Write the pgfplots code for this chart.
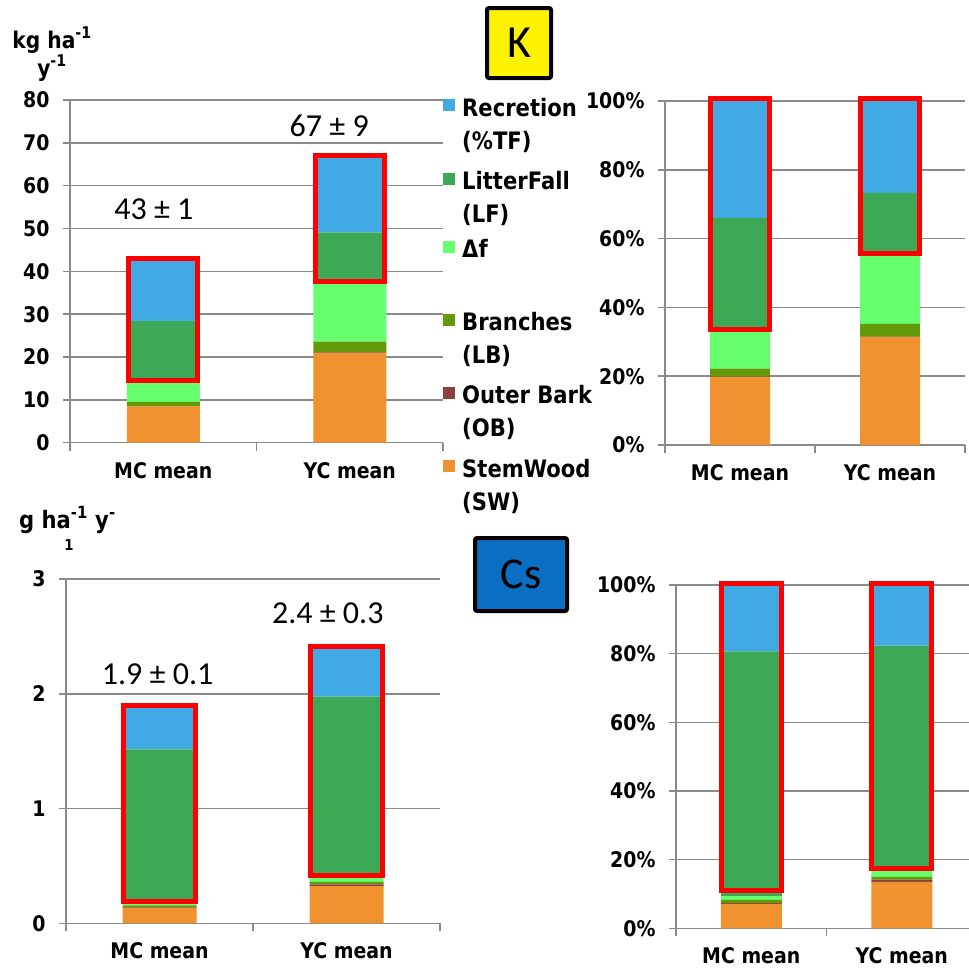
\documentclass[border=0pt]{standalone}
\usepackage{fontspec}
\setmainfont{DejaVu Sans}[FakeStretch=0.88]
\newfontfamily\calib{Carlito}
\usepackage{pgfplots}
\usepackage{pgfplotstable}
\pgfplotsset{compat=1.18}
\definecolor{cRec}{HTML}{41A9E3}
\definecolor{cLF}{HTML}{3DA855}
\definecolor{cDf}{HTML}{66FF6E}
\definecolor{cLB}{HTML}{629A0A}
\definecolor{cOB}{HTML}{8C3F3F}
\definecolor{cSW}{HTML}{F0922F}
\definecolor{gridc}{HTML}{8A8A8A}
\definecolor{csblue}{HTML}{0A6EC2}

% K absolute (kg/ha/y)
\pgfplotstableread{
x SW OB LB Df LF Rec
0 8.5 0.05 1.0 5.05 13.8 14.6
1 21.0 0.1 2.5 14.0 11.5 17.9
}\Kabs
% K percent
\pgfplotstableread{
x SW OB LB Df LF Rec
0 19.77 0.12 2.33 11.74 32.09 33.95
1 31.34 0.15 3.73 20.90 17.16 26.72
}\Kpct
% Cs absolute (g/ha/y)
\pgfplotstableread{
x SW OB LB Df LF Rec
0 0.134 0.004 0.018 0.020 1.340 0.364
1 0.325 0.015 0.020 0.046 1.570 0.424
}\Csabs
% Cs percent
\pgfplotstableread{
x SW OB LB Df LF Rec
0 7.13 0.21 0.96 1.06 71.28 19.36
1 13.54 0.63 0.83 1.92 65.42 17.67
}\Cspct

\pgfplotsset{
 sqlegend/.style={legend image code/.code={\fill[##1] (0pt,5pt) rectangle (12pt,17pt);}},
 seg/.style={fill=#1, draw=none, sqlegend},
 frame/.style={draw=red, line width=5pt, mark=none, line join=miter},
 frameax/.style={scale only axis, anchor=south west, xmin=-0.5, xmax=1.5, ymin=0, hide axis, clip=false},
 stk/.style={
  scale only axis, anchor=south west,
  ybar stacked, bar width=#1,
  xmin=-0.5, xmax=1.5, ymin=0,
  xtick={0,1}, xticklabels={MC mean,YC mean},
  minor xtick={-0.5,0.5,1.5},
  axis x line*=bottom, axis y line*=left,
  axis line style={draw=gridc, line width=1.5pt, -},
  ymajorgrids, major grid style={draw=gridc, line width=1.5pt},
  tick align=outside,
  major x tick style={draw=none},
  minor x tick style={draw=gridc, line width=1.5pt},
  major y tick style={draw=gridc, line width=1.5pt},
  major tick length=7pt, minor tick length=8pt,
  tick label style={font=\fontsize{21.5}{25}\selectfont\bfseries},
  yticklabel style={xshift=-10pt},
  xticklabel style={yshift=-9pt},
  /pgf/number format/assume math mode=true,
  clip=false,
 },
}

\begin{document}
\begin{tikzpicture}
\path[use as bounding box] (0pt,0pt) rectangle (969pt,-967pt);

% ---------- K absolute ----------
\begin{axis}[stk=73pt, at={(70pt,-442.7pt)}, width=373pt, height=342.7pt,
  ymax=80, ytick={0,10,...,80},
  reverse legend,
  legend style={at={(1.0,1.02)}, anchor=north west, draw=none, fill=none,
    font=\fontsize{24}{33}\selectfont\bfseries, cells={anchor=base west},
    row sep=48.5pt, column sep=7pt, inner sep=0pt, nodes={inner sep=0pt}},
]
\addplot[seg=cSW] table[x=x,y=SW]{\Kabs};
\addlegendentry{\begin{tabular}[t]{@{}l@{}}StemWood\\(SW)\end{tabular}}
\addplot[seg=cOB] table[x=x,y=OB]{\Kabs};
\addlegendentry{\begin{tabular}[t]{@{}l@{}}Outer Bark\\(OB)\end{tabular}}
\addplot[seg=cLB] table[x=x,y=LB]{\Kabs};
\addlegendentry{\begin{tabular}[t]{@{}l@{}}Branches\\(LB)\end{tabular}}
\addplot[seg=cDf] table[x=x,y=Df]{\Kabs};
\addlegendentry{Δf}
\addplot[seg=cLF] table[x=x,y=LF]{\Kabs};
\addlegendentry{\begin{tabular}[t]{@{}l@{}}LitterFall\\(LF)\end{tabular}}
\addplot[seg=cRec] table[x=x,y=Rec]{\Kabs};
\addlegendentry{\begin{tabular}[t]{@{}l@{}}Recretion\\(\%TF)\end{tabular}}
\node[anchor=base, font=\calib\fontsize{32}{36}\selectfont] at (axis cs:-0.05,52) {43 ± 1};
\node[anchor=base, font=\calib\fontsize{32}{36}\selectfont] at (axis cs:0.89,71.5) {67 ± 9};
\end{axis}
\begin{axis}[frameax, at={(70pt,-442.7pt)}, width=373pt, height=342.7pt, ymax=80]
\addplot[frame] coordinates {(-0.185,14.6) (0.185,14.6) (0.185,43.0) (-0.185,43.0) (-0.185,14.6) (0.185,14.6)};
\addplot[frame] coordinates {(0.815,37.6) (1.185,37.6) (1.185,67.0) (0.815,67.0) (0.815,37.6) (1.185,37.6)};
\end{axis}

% ---------- K percent ----------
\begin{axis}[stk=60pt, at={(665pt,-445pt)}, width=300pt, height=344pt,
  ymax=100, ytick={0,20,...,100}, yticklabel={\pgfmathprintnumber{\tick}\%},
]
\addplot[seg=cSW] table[x=x,y=SW]{\Kpct};
\addplot[seg=cOB] table[x=x,y=OB]{\Kpct};
\addplot[seg=cLB] table[x=x,y=LB]{\Kpct};
\addplot[seg=cDf] table[x=x,y=Df]{\Kpct};
\addplot[seg=cLF] table[x=x,y=LF]{\Kpct};
\addplot[seg=cRec] table[x=x,y=Rec]{\Kpct};
\end{axis}
\begin{axis}[frameax, at={(665pt,-445pt)}, width=300pt, height=344pt, ymax=100]
\addplot[frame] coordinates {(-0.195,33.5) (0.195,33.5) (0.195,100.7) (-0.195,100.7) (-0.195,33.5) (0.195,33.5)};
\addplot[frame] coordinates {(0.805,55.8) (1.195,55.8) (1.195,100.7) (0.805,100.7) (0.805,55.8) (1.195,55.8)};
\end{axis}

% ---------- Cs absolute ----------
\begin{axis}[stk=74pt, at={(66pt,-923.3pt)}, width=374pt, height=344.3pt,
  ymax=3, ytick={0,1,2,3},
]
\addplot[seg=cSW] table[x=x,y=SW]{\Csabs};
\addplot[seg=cOB] table[x=x,y=OB]{\Csabs};
\addplot[seg=cLB] table[x=x,y=LB]{\Csabs};
\addplot[seg=cDf] table[x=x,y=Df]{\Csabs};
\addplot[seg=cLF] table[x=x,y=LF]{\Csabs};
\addplot[seg=cRec] table[x=x,y=Rec]{\Csabs};
\node[anchor=base, font=\calib\fontsize{32}{36}\selectfont] at (axis cs:-0.01,2.08) {1.9 ± 0.1};
\node[anchor=base, font=\calib\fontsize{32}{36}\selectfont] at (axis cs:0.9,2.615) {2.4 ± 0.3};
\end{axis}
\begin{axis}[frameax, at={(66pt,-923.3pt)}, width=374pt, height=344.3pt, ymax=3]
\addplot[frame] coordinates {(-0.195,0.19) (0.195,0.19) (0.195,1.895) (-0.195,1.895) (-0.195,0.19) (0.195,0.19)};
\addplot[frame] coordinates {(0.805,0.42) (1.195,0.42) (1.195,2.41) (0.805,2.41) (0.805,0.42) (1.195,0.42)};
\end{axis}

% ---------- Cs percent ----------
\begin{axis}[stk=61pt, at={(676pt,-928.3pt)}, width=301pt, height=343.3pt,
  ymax=100, ytick={0,20,...,100}, yticklabel={\pgfmathprintnumber{\tick}\%},
]
\addplot[seg=cSW] table[x=x,y=SW]{\Cspct};
\addplot[seg=cOB] table[x=x,y=OB]{\Cspct};
\addplot[seg=cLB] table[x=x,y=LB]{\Cspct};
\addplot[seg=cDf] table[x=x,y=Df]{\Cspct};
\addplot[seg=cLF] table[x=x,y=LF]{\Cspct};
\addplot[seg=cRec] table[x=x,y=Rec]{\Cspct};
\end{axis}
\begin{axis}[frameax, at={(676pt,-928.3pt)}, width=301pt, height=343.3pt, ymax=100]
\addplot[frame] coordinates {(-0.2,10.9) (0.2,10.9) (0.2,100.3) (-0.2,100.3) (-0.2,10.9) (0.2,10.9)};
\addplot[frame] coordinates {(0.8,17.5) (1.2,17.5) (1.2,100.3) (0.8,100.3) (0.8,17.5) (1.2,17.5)};
\end{axis}

% ---------- titles / unit labels ----------
\node[anchor=base, font=\fontsize{23}{27}\selectfont\bfseries] at (52pt,-48pt) {kg ha\textsuperscript{-1}};
\node[anchor=base, font=\fontsize{23}{27}\selectfont\bfseries] at (52pt,-76pt) {y\textsuperscript{-1}};
\node[anchor=base west, inner sep=0pt, font=\fontsize{24}{28}\selectfont\bfseries] at (19pt,-528pt) {g ha\textsuperscript{-1} y\textsuperscript{-}};
\node[anchor=base, inner sep=0pt, font=\fontsize{15}{17}\selectfont\bfseries] at (69pt,-550pt) {1};

\node[draw=black, line width=4pt, fill=yellow, minimum width=64pt, minimum height=70pt, rounded corners=2pt, font=\calib\fontsize{46}{50}\selectfont] at (519pt,-43pt) {K};
\node[draw=black, line width=4pt, fill=csblue, minimum width=92pt, minimum height=73pt, rounded corners=2pt, font=\calib\fontsize{44}{48}\selectfont] at (521pt,-574.5pt) {Cs};
\end{tikzpicture}
\end{document}
